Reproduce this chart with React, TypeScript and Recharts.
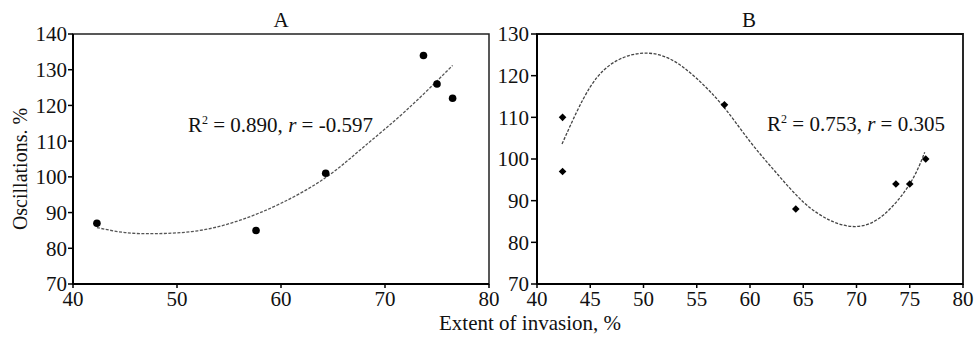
import React from "react";
import {
  ComposedChart,
  Scatter,
  Line,
  XAxis,
  YAxis,
  ReferenceArea,
  ReferenceDot,
} from "recharts";

// ---- Panel A data ----
const aPointsX = [42.3, 57.6, 64.3, 73.7, 75.0, 76.5];
const aPointsY = [87, 85, 101, 134, 126, 122];
const aTrendX = [42.3, 45, 48, 52, 56, 60, 64.3, 68, 72, 76.5];
const aTrendY = [85.8, 84.4, 84.1, 84.9, 87.8, 92.6, 99.8, 108.5, 118.5, 131.2];
const aXTicks = [40, 50, 60, 70, 80];
const aYTicks = [70, 80, 90, 100, 110, 120, 130, 140];

// ---- Panel B data ----
const bPointsX = [42.4, 42.4, 57.6, 64.3, 73.7, 75.0, 76.5];
const bPointsY = [110, 97, 113, 88, 94, 94, 100];
const bTrendX = [42.35, 45, 47.5, 50, 52.5, 55, 57.5, 60, 62.5, 65, 67.5, 70, 72.5, 75, 76.4];
const bTrendY = [103.6, 117.3, 123.6, 125.4, 124.0, 119.3, 112.6, 104.2, 96.6, 89.7, 85.3, 83.8, 86.5, 94.0, 101.6];
const bXTicks = [40, 45, 50, 55, 60, 65, 70, 75, 80];
const bYTicks = [70, 80, 90, 100, 110, 120, 130];

const titles = ["A", "B"];
const annotA = { r2: "0.890", r: "-0.597", x: 51.06, y: 112.7 };
const annotB = { r2: "0.753", r: "0.305", x: 61.6, y: 106.7 };
const xLabel = "Extent of invasion, %";
const yLabel = "Oscillations. %";

const zip = (xs: number[], ys: number[]) => xs.map((x, i) => ({ x, y: ys[i] }));

const FONT = "Liberation Serif";
const FS = 21;
const tickStyle = { fontSize: FS, fill: "#111", fontFamily: FONT };

const Diamond = (props: any) => {
  const { cx, cy } = props;
  const s = 3.8;
  return (
    <polygon
      points={`${cx},${cy - s} ${cx + s},${cy} ${cx},${cy + s} ${cx - s},${cy}`}
      fill="#000"
    />
  );
};

const Circle = (props: any) => {
  const { cx, cy } = props;
  return <circle cx={cx} cy={cy} r={3.8} fill="#000" />;
};

const makeAnnot = (r2: string, r: string) => (props: any) => {
  const vb = props.viewBox || {};
  return (
    <text x={vb.x} y={vb.y} fontFamily={FONT} fontSize={FS} fill="#111">
      R
      <tspan fontSize={12} dy={-8}>
        2
      </tspan>
      <tspan dy={8}>{` = ${r2}, `}</tspan>
      <tspan fontStyle="italic">r</tspan>
      <tspan>{` = ${r}`}</tspan>
    </text>
  );
};

export default function App() {
  return (
    <div
      style={{
        position: "absolute",
        left: 0,
        top: 0,
        width: 974,
        height: 337,
        background: "#fff",
        fontFamily: FONT,
      }}
    >
      <div style={{ position: "absolute", left: 0, top: 0 }}>
        <ComposedChart width={512} height={337} margin={{ top: 34, right: 23, bottom: 23, left: 0 }}>
          <XAxis
            type="number"
            dataKey="x"
            domain={[40, 80]}
            ticks={aXTicks}
            interval={0}
            height={30}
            tick={tickStyle}
            tickSize={4}
            tickMargin={3}
            axisLine={{ stroke: "#000", strokeWidth: 2 }}
            tickLine={{ stroke: "#000", strokeWidth: 1.5 }}
          />
          <YAxis
            type="number"
            dataKey="y"
            domain={[70, 140]}
            ticks={aYTicks}
            interval={0}
            width={73}
            tick={tickStyle}
            tickSize={5}
            tickMargin={1}
            axisLine={{ stroke: "#000", strokeWidth: 2 }}
            tickLine={{ stroke: "#000", strokeWidth: 1.5 }}
          />
          <ReferenceArea x1={40} x2={80} y1={70} y2={140} fill="none" stroke="#222" strokeWidth={1.5} />
          <Line
            data={zip(aTrendX, aTrendY)}
            dataKey="y"
            type="natural"
            stroke="#555"
            strokeWidth={1.3}
            strokeDasharray="3 1.5"
            dot={false}
            isAnimationActive={false}
          />
          <Scatter data={zip(aPointsX, aPointsY)} dataKey="y" shape={Circle} isAnimationActive={false} />
          <ReferenceDot
            x={annotA.x}
            y={annotA.y}
            r={0}
            stroke="none"
            fill="none"
            label={makeAnnot(annotA.r2, annotA.r)}
          />
        </ComposedChart>
      </div>
      <div style={{ position: "absolute", left: 490, top: 0 }}>
        <ComposedChart width={484} height={337} margin={{ top: 34, right: 11, bottom: 23, left: 0 }}>
          <XAxis
            type="number"
            dataKey="x"
            domain={[40, 80]}
            ticks={bXTicks}
            interval={0}
            height={30}
            tick={tickStyle}
            tickSize={4}
            tickMargin={3}
            axisLine={{ stroke: "#000", strokeWidth: 2 }}
            tickLine={{ stroke: "#000", strokeWidth: 1.5 }}
          />
          <YAxis
            type="number"
            dataKey="y"
            domain={[70, 130]}
            ticks={bYTicks}
            interval={0}
            width={47}
            tick={tickStyle}
            tickSize={6}
            tickMargin={2}
            axisLine={{ stroke: "#000", strokeWidth: 2 }}
            tickLine={{ stroke: "#000", strokeWidth: 1.5 }}
          />
          <ReferenceArea x1={40} x2={80} y1={70} y2={130} fill="none" stroke="#111" strokeWidth={1.8} />
          <Line
            data={zip(bTrendX, bTrendY)}
            dataKey="y"
            type="natural"
            stroke="#444"
            strokeWidth={1.3}
            strokeDasharray="3 1.5"
            dot={false}
            isAnimationActive={false}
          />
          <Scatter data={zip(bPointsX, bPointsY)} dataKey="y" shape={Diamond} isAnimationActive={false} />
          <ReferenceDot
            x={annotB.x}
            y={annotB.y}
            r={0}
            stroke="none"
            fill="none"
            label={makeAnnot(annotB.r2, annotB.r)}
          />
        </ComposedChart>
      </div>
      <svg
        width={974}
        height={337}
        style={{ position: "absolute", left: 0, top: 0, pointerEvents: "none" }}
      >
        <text x={281} y={27} textAnchor="middle" fontFamily={FONT} fontSize={FS} fill="#111">
          {titles[0]}
        </text>
        <text x={749} y={27} textAnchor="middle" fontFamily={FONT} fontSize={FS} fill="#111">
          {titles[1]}
        </text>
        <text x={530} y={330} textAnchor="middle" fontFamily={FONT} fontSize={FS} fill="#111">
          {xLabel}
        </text>
        <text
          x={27}
          y={169}
          textAnchor="middle"
          fontFamily={FONT}
          fontSize={20}
          fill="#111"
          transform="rotate(-90, 27, 169)"
        >
          {yLabel}
        </text>
      </svg>
    </div>
  );
}
